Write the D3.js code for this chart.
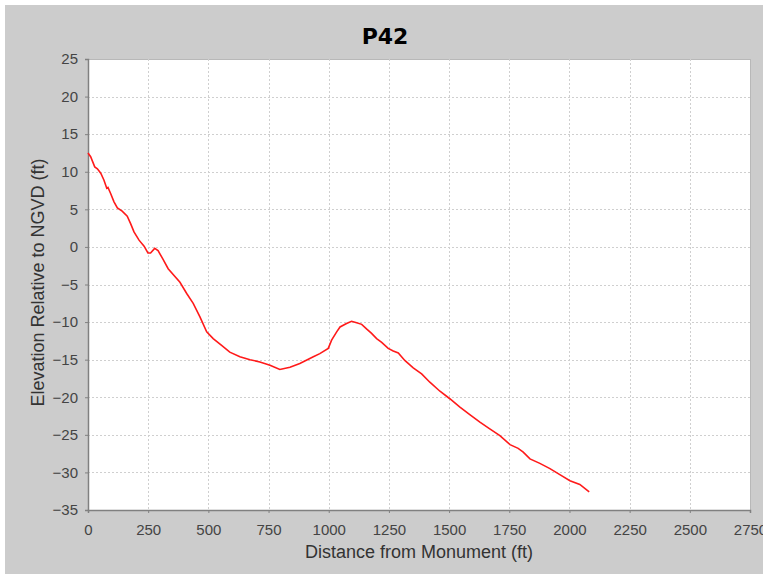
<!DOCTYPE html>
<html>
<head>
<meta charset="utf-8">
<script src="https://cdn.jsdelivr.net/npm/d3@7"></script>
<style>
  body { margin: 0; background: #ffffff; }
  svg { display: block; }
  text { font-family: "Liberation Sans", Arial, sans-serif; }
</style>
</head>
<body>
<svg width="763" height="574"></svg>
<script>
var title = "P42";
var xLabel = "Distance from Monument (ft)";
var yLabel = "Elevation Relative to NGVD (ft)";

var xTicks = [0, 250, 500, 750, 1000, 1250, 1500, 1750, 2000, 2250, 2500, 2750];
var yTicks = [25, 20, 15, 10, 5, 0, -5, -10, -15, -20, -25, -30, -35];

// profile: distance (ft) and elevation (ft)
var distance = [0, 11, 28, 39, 53, 66, 78, 83, 94, 108, 122, 142, 163, 177, 191, 212, 233,
    249, 260, 277, 291, 309, 333, 382, 410, 437, 465, 493, 520, 555, 589, 631, 673, 714,
    756, 797, 839, 880, 936, 963, 998, 1012, 1033, 1047, 1074, 1095, 1116, 1137, 1157,
    1178, 1199, 1220, 1247, 1268, 1289, 1316, 1351, 1386, 1420, 1462, 1503, 1545, 1586,
    1628, 1669, 1711, 1753, 1787, 1808, 1836, 1877, 1919, 1960, 2002, 2043, 2082];
var elevation = [12.5, 12.0, 10.65, 10.4, 9.8, 8.9, 7.8, 7.9, 7.1, 6.0, 5.2, 4.75, 4.1, 3.1, 2.0, 0.9, 0.1,
    -0.8, -0.8, -0.2, -0.5, -1.5, -2.9, -4.7, -6.2, -7.5, -9.3, -11.3, -12.2, -13.1, -14.0, -14.6, -15.0, -15.3,
    -15.75, -16.3, -16.0, -15.5, -14.6, -14.2, -13.5, -12.4, -11.3, -10.65, -10.2, -9.9, -10.1, -10.3, -10.9,
    -11.5, -12.2, -12.7, -13.5, -13.85, -14.1, -15.1, -16.1, -16.9, -18.0, -19.2, -20.2, -21.3, -22.3,
    -23.3, -24.2, -25.1, -26.3, -26.8, -27.3, -28.2, -28.8, -29.5, -30.3, -31.1, -31.6, -32.6];

var svg = d3.select("svg");
var W = 763, H = 574;
var margin = {top: 59, right: 13, bottom: 64, left: 88};
var width = W - margin.left - margin.right;
var height = H - margin.top - margin.bottom;

//---------------------------------------------------------------------
// background and plot area
svg.append("rect")
    .attr("x", 5).attr("y", 5)
    .attr("width", W - 5).attr("height", H - 5)
    .attr("fill", "#cccccc");

var g = svg.append("g")
    .attr("transform", "translate(" + margin.left + "," + margin.top + ")");

g.append("rect")
    .attr("width", width).attr("height", height)
    .attr("fill", "#ffffff")
    .attr("stroke", "#b8b8b8")
    .attr("stroke-width", 1)
    .attr("shape-rendering", "crispEdges");

var x = d3.scaleLinear().domain([0, 2750]).range([0, width]);
var y = d3.scaleLinear().domain([-35, 25]).range([height, 0]);

//---------------------------------------------------------------------
// grid
g.selectAll(".vgrid")
    .data(xTicks.slice(1, -1))
    .enter().append("line")
    .attr("class", "vgrid")
    .attr("x1", function(d) { return Math.round(x(d)) + 0.5; })
    .attr("x2", function(d) { return Math.round(x(d)) + 0.5; })
    .attr("y1", 0).attr("y2", height)
    .attr("stroke", "#cfcfcf")
    .attr("stroke-dasharray", "2,2");

g.selectAll(".hgrid")
    .data(yTicks.slice(1, -1))
    .enter().append("line")
    .attr("class", "hgrid")
    .attr("y1", function(d) { return Math.round(y(d)) + 0.5; })
    .attr("y2", function(d) { return Math.round(y(d)) + 0.5; })
    .attr("x1", 0).attr("x2", width)
    .attr("stroke", "#cfcfcf")
    .attr("stroke-dasharray", "2,2");

//---------------------------------------------------------------------
// axes
var xAxis = d3.axisBottom(x).tickValues(xTicks).tickSize(3).tickPadding(11)
    .tickFormat(d3.format("d"));
var yAxis = d3.axisLeft(y).tickValues(yTicks).tickSize(3).tickPadding(7)
    .tickFormat(d3.format("d"));

var gx = g.append("g")
    .attr("transform", "translate(0," + height + ")")
    .call(xAxis);
var gy = g.append("g").call(yAxis);

[gx, gy].forEach(function(a) {
    a.select(".domain").attr("stroke", "#808080").attr("stroke-width", 1.5);
    a.selectAll(".tick line").attr("stroke", "#808080");
    a.selectAll(".tick text")
        .attr("fill", "#444444")
        .style("font-size", "15px")
        .style("font-family", "'Liberation Sans', Arial, sans-serif");
});

//---------------------------------------------------------------------
// profile line
var line = d3.line()
    .x(function(d, i) { return x(distance[i]); })
    .y(function(d) { return y(d); });

g.append("path")
    .datum(elevation)
    .attr("d", line)
    .attr("fill", "none")
    .attr("stroke", "#ff1a1a")
    .attr("stroke-width", 1.6);

//---------------------------------------------------------------------
// labels
svg.append("text")
    .attr("x", 385).attr("y", 44)
    .attr("text-anchor", "middle")
    .style("font-family", "'DejaVu Sans', sans-serif")
    .style("font-size", "22px")
    .style("font-weight", "bold")
    .attr("fill", "#000")
    .text(title);

svg.append("text")
    .attr("x", margin.left + width / 2).attr("y", 558)
    .attr("text-anchor", "middle")
    .style("font-size", "18px")
    .attr("fill", "#333")
    .text(xLabel);

svg.append("text")
    .attr("transform", "translate(44," + (margin.top + height / 2 - 2) + ") rotate(-90)")
    .attr("text-anchor", "middle")
    .style("font-size", "18px")
    .attr("fill", "#333")
    .text(yLabel);
</script>
</body>
</html>
